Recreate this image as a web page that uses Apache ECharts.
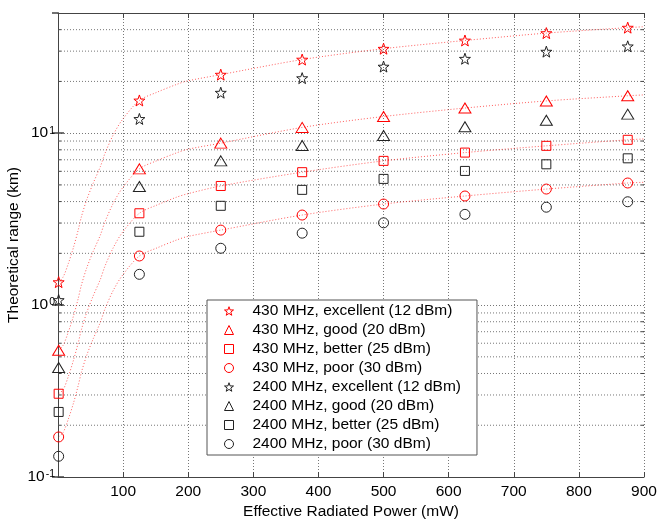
<!DOCTYPE html>
<html>
<head>
<meta charset="utf-8">
<script src="https://cdn.jsdelivr.net/npm/echarts@6/dist/echarts.min.js"></script>
<style>
html,body{margin:0;padding:0;background:#fff;}
#chart{width:657px;height:522px;}
</style>
</head>
<body>
<div id="chart"></div>
<script>
// Measured points (x = effective radiated power, mW)
const xPower = [1, 125, 250, 375, 500, 625, 750, 875];
const r430Excellent = [1.36, 15.5, 21.9, 26.8, 31.0, 34.6, 38.2, 41.1];
const r430Good      = [0.546, 6.2, 8.75, 10.8, 12.5, 14.0, 15.4, 16.5];
const r430Better    = [0.305, 3.42, 4.93, 5.93, 6.9, 7.71, 8.44, 9.15];
const r430Poor      = [0.171, 1.93, 2.73, 3.34, 3.87, 4.31, 4.73, 5.13];
const r2400Excellent = [1.07, 12.1, 17.2, 20.9, 24.4, 27.1, 29.8, 32.0];
const r2400Good      = [0.433, 4.89, 6.9, 8.47, 9.69, 10.9, 11.9, 12.9];
const r2400Better    = [0.239, 2.67, 3.78, 4.68, 5.42, 6.03, 6.59, 7.14];
const r2400Poor      = [0.132, 1.51, 2.14, 2.62, 3.01, 3.37, 3.71, 3.99];

// Dotted fit curves (430 MHz)
const fitX = [1, 8, 16, 24, 31, 36, 44, 54, 65, 72, 85, 99, 125, 152, 182, 198, 250, 375, 500, 625, 750, 875, 900];
const fit430Excellent = [1.36, 1.46, 1.75, 2.18, 2.73, 3.27, 4.09, 5.11, 6.38, 7.6, 9.8, 12.0, 15.5, 17.3, 19.2, 20.1, 21.9, 26.8, 31.0, 34.6, 38.2, 41.1, 41.6];
const fit430Good = [0.546, 0.585, 0.70, 0.87, 1.09, 1.31, 1.64, 2.05, 2.55, 3.04, 3.92, 4.8, 6.2, 6.92, 7.68, 8.04, 8.75, 10.8, 12.5, 14.0, 15.4, 16.5, 16.7];
const fit430Better = [0.305, 0.322, 0.386, 0.481, 0.602, 0.721, 0.902, 1.13, 1.41, 1.68, 2.16, 2.65, 3.42, 3.82, 4.24, 4.43, 4.93, 5.93, 6.9, 7.71, 8.44, 9.15, 9.25];
const fit430Poor = [0.171, 0.182, 0.218, 0.271, 0.34, 0.407, 0.509, 0.636, 0.794, 0.946, 1.22, 1.49, 1.93, 2.15, 2.39, 2.50, 2.73, 3.34, 3.87, 4.31, 4.73, 5.13, 5.18];

// Axis ticks
const xTicks = [100, 200, 300, 400, 500, 600, 700, 800, 900];
const yMinorTicks = [0.2, 0.3, 0.4, 0.5, 0.6, 0.7, 0.8, 0.9, 2, 3, 4, 5, 6, 7, 8, 9, 20, 30, 40];

const legendNames = [
  '430 MHz, excellent (12 dBm)',
  '430 MHz, good (20 dBm)',
  '430 MHz, better (25 dBm)',
  '430 MHz, poor (30 dBm)',
  '2400 MHz, excellent (12 dBm)',
  '2400 MHz, good (20 dBm)',
  '2400 MHz, better (25 dBm)',
  '2400 MHz, poor (30 dBm)'
];

const STAR = 'path://M0,-10L2.35,-3.24L9.51,-3.09L3.8,1.24L5.88,8.09L0,4.2L-5.88,8.09L-3.8,1.24L-9.51,-3.09L-2.35,-3.24Z';
const RED = '#ff0000';
const BLK = '#222222';
const FONT = 'Liberation Sans, Arial, sans-serif';
const FS = 15.5;

function pairs(xs, ys) { return xs.map((x, i) => [x, ys[i]]); }

function markerSeries(name, ys, symbol, size, color) {
  return {
    name: name, type: 'scatter', data: pairs(xPower, ys),
    symbol: symbol, symbolSize: size, z: 5,
    itemStyle: { color: 'rgba(0,0,0,0)', borderColor: color, borderWidth: 1, opacity: 1 },
    emphasis: { disabled: true }
  };
}
function fitSeries(ys) {
  return {
    type: 'line', data: pairs(fitX, ys), symbol: 'none', smooth: 0.3, z: 3,
    lineStyle: { color: 'rgba(255,40,40,0.75)', width: 1, type: [1, 2] },
    silent: true
  };
}

const legendIcons = [STAR, 'triangle', 'rect', 'circle', STAR, 'triangle', 'rect', 'circle'];
const legendColors = [RED, RED, RED, RED, BLK, BLK, BLK, BLK];

const chart = echarts.init(document.getElementById('chart'), null, { renderer: 'canvas' });

const gridStyle = { color: '#777', width: 1, type: [1, 2] };

const option = {
  animation: false,
  backgroundColor: '#fff',
  grid: { left: 58, right: 13, top: 13, bottom: 45, containLabel: false, outerBoundsMode: 'none' },
  legend: {
    data: legendNames.map((n, i) => ({
      name: n, icon: legendIcons[i],
      itemStyle: { color: 'rgba(0,0,0,0)', borderColor: legendColors[i], borderWidth: 1 }
    })),
    orient: 'vertical',
    left: 207, top: 300,
    padding: [3, 16, 3, 17],
    itemWidth: 9, itemHeight: 9, itemGap: 3,
    backgroundColor: '#fff',
    borderColor: '#555', borderWidth: 1,
    selectedMode: false,
    textStyle: { fontFamily: FONT, fontSize: FS, color: '#000', padding: [0, 0, 0, 14], lineHeight: 15 }
  },
  xAxis: [{
    type: 'value', min: 0, max: 900, interval: 100,
    name: 'Effective Radiated Power (mW)', nameLocation: 'middle', nameGap: 27,
    nameMoveOverlap: false,
    nameTextStyle: { fontFamily: FONT, fontSize: FS, color: '#000' },
    axisLine: { lineStyle: { color: '#444' } },
    axisTick: { inside: true, length: 5, lineStyle: { color: '#444' } },
    axisLabel: { fontFamily: FONT, fontSize: FS, color: '#000', margin: 7,
      formatter: v => (xTicks.indexOf(v) >= 0 ? String(v) : '') },
    splitLine: { show: true, lineStyle: gridStyle }
  }, {
    type: 'value', min: 0, max: 900, interval: 100, position: 'top',
    axisLine: { show: true, lineStyle: { color: '#444' } },
    axisTick: { inside: true, length: 5, lineStyle: { color: '#444' } },
    axisLabel: { show: false }, splitLine: { show: false }
  }],
  yAxis: [{
    type: 'log', logBase: 10, min: 0.1, max: 50,
    name: 'Theoretical range (km)', nameLocation: 'middle', nameGap: 36,
    nameMoveOverlap: false,
    nameTextStyle: { fontFamily: FONT, fontSize: FS, color: '#000' },
    axisLine: { show: true, lineStyle: { color: '#444' } },
    axisTick: { inside: true, length: 6, lineStyle: { color: '#444', width: 1.5 } },
    axisLabel: {
      margin: 3, showMaxLabel: false, hideOverlap: false,
      formatter: function (v) {
        const e = Math.round(Math.log10(v));
        if (Math.abs(Math.pow(10, e) - v) > 1e-9 * v) return '';
        return '{b|10}{s|' + e + '}';
      },
      rich: {
        b: { fontFamily: FONT, fontSize: FS, color: '#000', lineHeight: 24, verticalAlign: 'middle' },
        s: { fontFamily: FONT, fontSize: 10.5, color: '#000', lineHeight: 24, verticalAlign: 'top', padding: [4, 0, 0, 1] }
      }
    },
    splitLine: { show: true, lineStyle: gridStyle }
  }, {
    type: 'log', logBase: 10, min: 0.1, max: 50, position: 'right',
    axisLine: { show: true, lineStyle: { color: '#444' } },
    axisTick: { inside: true, length: 6, lineStyle: { color: '#444', width: 1.5 } },
    axisLabel: { show: false }, splitLine: { show: false }
  }],
  series: [
    {
      type: 'custom', silent: true, z: 1,
      data: yMinorTicks.map(v => [0, v]),
      renderItem: function (params, api) {
        const y = api.value(1);
        const p1 = api.coord([0, y]);
        const p2 = api.coord([900, y]);
        return {
          type: 'group',
          children: [
            { type: 'line', shape: { x1: p1[0], y1: p1[1], x2: p2[0], y2: p2[1] },
              style: { stroke: '#777', lineWidth: 1, lineDash: [1, 2] } },
            { type: 'line', shape: { x1: p1[0], y1: p1[1], x2: p1[0] + 3, y2: p1[1] },
              style: { stroke: '#444', lineWidth: 1 } },
            { type: 'line', shape: { x1: p2[0] - 3, y1: p2[1], x2: p2[0], y2: p2[1] },
              style: { stroke: '#444', lineWidth: 1 } }
          ]
        };
      }
    },
    fitSeries(fit430Excellent),
    fitSeries(fit430Good),
    fitSeries(fit430Better),
    fitSeries(fit430Poor),
    markerSeries(legendNames[0], r430Excellent, STAR, 11, RED),
    markerSeries(legendNames[1], r430Good, 'triangle', [12, 10], RED),
    markerSeries(legendNames[2], r430Better, 'rect', 9, RED),
    markerSeries(legendNames[3], r430Poor, 'circle', 10, RED),
    markerSeries(legendNames[4], r2400Excellent, STAR, 11, BLK),
    markerSeries(legendNames[5], r2400Good, 'triangle', [12, 10], BLK),
    markerSeries(legendNames[6], r2400Better, 'rect', 9, BLK),
    markerSeries(legendNames[7], r2400Poor, 'circle', 10, BLK)
  ]
};
chart.setOption(option);
</script>
</body>
</html>
